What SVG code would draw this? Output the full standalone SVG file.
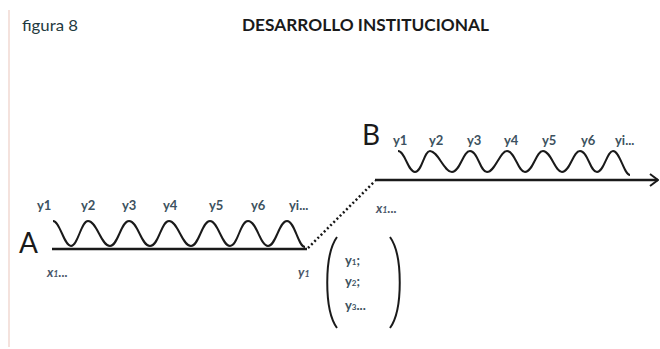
<svg xmlns="http://www.w3.org/2000/svg" width="660" height="349" viewBox="0 0 660 349">
<defs>
<style>
.t{font-family:Lato,"Open Sans","Liberation Sans",sans-serif;}
.lbl{font-family:Lato,"Open Sans","Liberation Sans",sans-serif;font-size:13px;font-weight:bold;fill:#3d5260;}
.x{font-family:Lato,"Open Sans","Liberation Sans",sans-serif;font-size:13px;font-style:italic;font-weight:bold;fill:#4a5668;}
.big{font-family:Lato,"Open Sans","Liberation Sans",sans-serif;font-size:28px;fill:#1a1a1a;}
.axis{stroke:#1a1a1a;stroke-width:2.5;fill:none;}
.wave{stroke:#1a1a1a;stroke-width:2;fill:none;}
</style>
<marker id="chev" viewBox="0 0 10 14" refX="9" refY="7" markerWidth="10" markerHeight="14" markerUnits="userSpaceOnUse" orient="auto">
<path d="M1,1 L9,7 L1,13" fill="none" stroke="#1a1a1a" stroke-width="2"/>
</marker>
</defs>
<rect width="660" height="349" fill="#ffffff"/>
<line x1="9" y1="10" x2="9" y2="347" stroke="#f0d9d2" stroke-width="1.5"/>
<text class="t" x="22" y="31" font-size="16" fill="#1f3a40" textLength="56" lengthAdjust="spacingAndGlyphs">figura 8</text>
<text class="t" x="242" y="31" font-size="17" font-weight="bold" fill="#1a1a1a" textLength="247" lengthAdjust="spacingAndGlyphs">DESARROLLO INSTITUCIONAL</text>

<g id="nodeA">
<text class="big" x="19" y="253">A</text>
<text class="lbl" x="37" y="210">y1</text>
<text class="lbl" x="81" y="210">y2</text>
<text class="lbl" x="122" y="210">y3</text>
<text class="lbl" x="163" y="210">y4</text>
<text class="lbl" x="209" y="210">y5</text>
<text class="lbl" x="251" y="210">y6</text>
<text class="lbl" x="289" y="210">yi...</text>
<path class="wave" d="M53,221 C60,221 64,246 71,246 C78,246 81,221 88,221 C97,221 101,246 110,246 C118,246 121,221 129,221 C138,221 141,246 150,246 C159,246 161,221 169,221 C178,221 182,246 191,246 C199,246 202,221 210,221 C218,221 222,246 230,246 C238,246 240,221 248,221 C257,221 260,246 268,246 C276,246 279,221 287,221 C295,221 298,247 305,247"/>
<text class="x" x="47" y="277">x<tspan font-size="9">1</tspan>...</text>
<text class="x" x="298" y="277">y<tspan font-size="9">1</tspan></text>
</g>

<g id="nodeB">
<text class="big" x="362" y="145">B</text>
<text class="lbl" x="393" y="145">y1</text>
<text class="lbl" x="429" y="145">y2</text>
<text class="lbl" x="467" y="145">y3</text>
<text class="lbl" x="504" y="145">y4</text>
<text class="lbl" x="542" y="145">y5</text>
<text class="lbl" x="581" y="145">y6</text>
<text class="lbl" x="615" y="145">yi...</text>
<path class="wave" d="M398,151 C405,151 408,172 415,172 C422,172 424,151 430,151 C438,151 444,172 452,172 C460,172 463,151 470,151 C478,151 480,172 487,172 C495,172 500,151 507,151 C515,151 518,172 525,172 C533,172 536,151 543,151 C551,151 555,172 562,172 C570,172 573,151 580,151 C588,151 590,172 597,172 C604,172 607,151 613,151 C620,151 624,175 630,175"/>
<text class="x" x="376" y="213">x<tspan font-size="9">1</tspan>...</text>
</g>

<g id="set">
<path class="wave" d="M337,237 C324,255 324,310 337,328"/>
<path class="wave" d="M390,237 C403,255 403,310 390,328"/>
<text class="lbl" x="345" y="265" font-size="12">y<tspan font-size="8">1</tspan>;</text>
<text class="lbl" x="345" y="286" font-size="12">y<tspan font-size="8">2</tspan>;</text>
<text class="lbl" x="345" y="310" font-size="12">y<tspan font-size="8">3</tspan>...</text>
</g>

<g id="connectors">
<line class="axis" x1="52" y1="249" x2="307" y2="249"/>
<line x1="308" y1="248" x2="375" y2="181" stroke="#1a1a1a" stroke-width="2.5" stroke-dasharray="2 2.5"/>
<line class="axis" x1="375" y1="180" x2="658" y2="180" marker-end="url(#chev)"/>
</g>
</svg>
